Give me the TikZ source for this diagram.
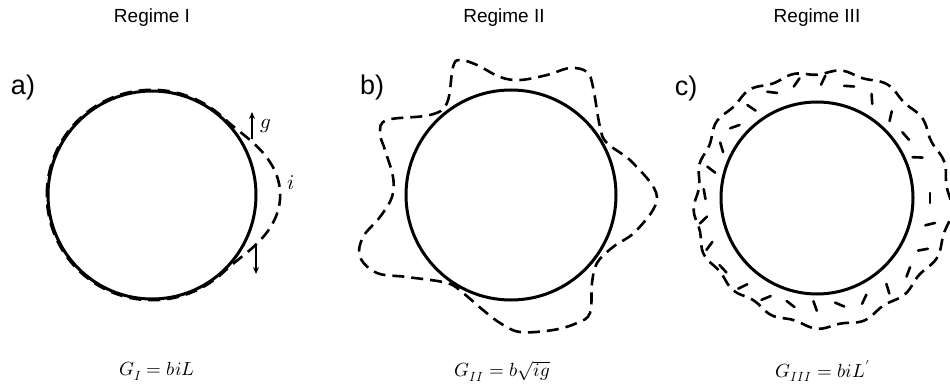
\documentclass[tikz,border=0pt]{standalone}
\usepackage{fontspec}
\usepackage{unicode-math}
\setmainfont{Liberation Sans}
\setmathfont{Latin Modern Math}
\usetikzlibrary{arrows.meta,positioning,calc}

\begin{document}
\begin{tikzpicture}[
        x=1pt, y=-1pt,
        every node/.style={inner sep=0pt, outer sep=0pt},
        regime/.style={font=\fontsize{19}{22}\selectfont},
        tag/.style={font=\fontsize{27}{30}\selectfont},
        formula/.style={font=\fontsize{19}{22}\selectfont},
        disc/.style={circle, draw=black, line width=3pt},
        boundary/.style={draw=black, line width=2.6pt, dash pattern=on 12pt off 7pt},
        flicker/.style={draw=black, line width=2.6pt, line cap=round},
        dim/.style={-{Stealth[length=7pt,width=6pt]}, line width=1.3pt},
    ]
        \useasboundingbox (0,0) rectangle (950,387);

        % titles and tags
        \node[regime] (t1) at (152,18) {Regime I};
        \node[regime] (t2) at (504,18) {Regime II};
        \node[regime] (t3) at (817,18) {Regime III};
        \node[tag] (la) at (23,88) {a)};
        \node[tag] (lb) at (372,88) {b)};
        \node[tag] (lc) at (686,89) {c)};

        % regime I
        \draw[boundary, shift={(152,195)}] plot[smooth, domain=-180:180, samples=145, variable=\t]
            (\t:{105.2+(abs(\t)<47)*23*cos(1.915*\t)*cos(1.915*\t)});
        \node[disc, minimum size=208pt] (ca) at (152,195) {};
        \coordinate (g1) at (252,139);
        \coordinate (g2) at (252,112);
        \coordinate (h1) at (256,246);
        \coordinate (h2) at (256,274);
        \draw[dim] (g1) -- (g2);
        \draw[dim] (h1) -- (h2);
        \node[font=\fontsize{21}{24}\selectfont] (gl) at (266,126) {$g$};
        \node[font=\fontsize{21}{24}\selectfont] (il) at (291,183) {$i$};

        % regime II
        \draw[boundary] plot[smooth cycle, tension=0.6] coordinates {
            (387,120) (430,115) (447,103) (453,67) (460,60) (477,65) (500,77) (520,80)
            (547,75) (570,68) (587,72) (593,87) (600,127) (607,143) (633,163) (657,197)
            (637,230) (613,247) (597,263) (592,283) (590,313) (577,323) (553,330) (520,332)
            (500,323) (483,310) (463,293) (447,283) (407,277) (377,273) (360,257) (363,237)
            (380,217) (392,197) (393,177) (385,150) (380,133)};
        \node[disc, minimum size=210pt] (cb) at (511,195) {};

        % regime III
        \draw[boundary, shift={(817,198)}] plot[smooth cycle, domain=0:358, samples=180, variable=\t]
            (\t:{127+5*cos(\t)+2*sin(5*\t+30)+2*sin(17*\t)});
        \begin{scope}[shift={(817,198)}]
            \foreach \a in {0,13,...,350}
                \draw[flicker] ($(\a:{113+5*sin(3*\a)})+({\a+90+70*sin(5*\a)}:5)$)
                    -- ($(\a:{113+5*sin(3*\a)})+({\a+270+70*sin(5*\a)}:5)$);
        \end{scope}
        \node[disc, minimum size=192pt] (cc) at (817,198) {};

        % conductances
        \node[formula] (fa) at (157,371) {$G_I = biL$};
        \node[formula] (fb) at (502,371) {$G_{II} = b\sqrt{ig}$};
        \node[formula] (fc) at (823,371) {$G_{III} = biL'$};
    \end{tikzpicture}
\end{document}
